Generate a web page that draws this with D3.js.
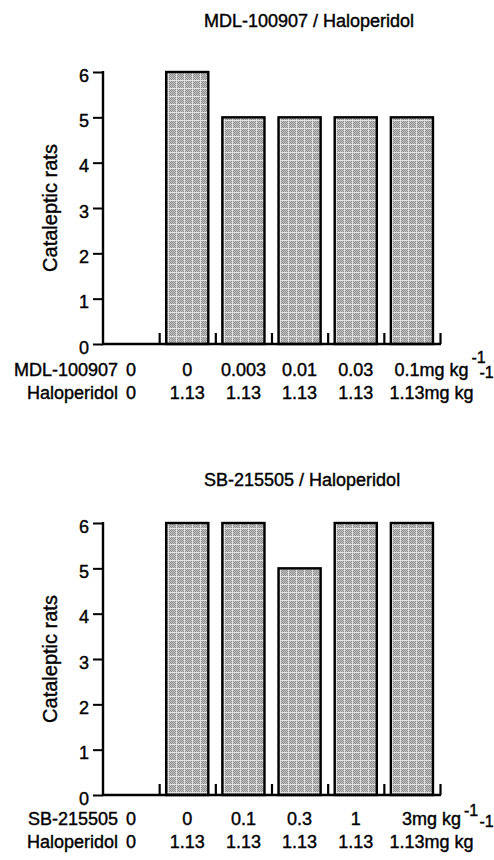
<!DOCTYPE html>
<html>
<head>
<meta charset="utf-8">
<script src="https://cdn.jsdelivr.net/npm/d3@7"></script>
<style>
  html, body { margin: 0; padding: 0; background: #fff; }
  svg { display: block; font-family: "Liberation Sans", Arial, Helvetica, sans-serif; }
  svg text { stroke: #000; stroke-width: 0.4px; fill: #000; }
</style>
</head>
<body>
<svg id="chart" width="494" height="860"></svg>
<script>
// ---- data ----
const yTicks = [0, 1, 2, 3, 4, 5, 6];
const unitText = "mg kg";
const unitSup = "-1";

const titleTop = "MDL-100907 / Haloperidol";
const drugTop = "MDL-100907";
const drugTopDoses = ["0", "0", "0.003", "0.01", "0.03", "0.1"];
const haloTopDoses = ["0", "1.13", "1.13", "1.13", "1.13", "1.13"];
const catalepticTop = [0, 6, 5, 5, 5, 5];

const titleBottom = "SB-215505 / Haloperidol";
const drugBottom = "SB-215505";
const drugBottomDoses = ["0", "0", "0.1", "0.3", "1", "3"];
const haloBottomDoses = ["0", "1.13", "1.13", "1.13", "1.13", "1.13"];
const catalepticBottom = [0, 6, 6, 5, 6, 6];

const yLabel = "Cataleptic rats";
const haloName = "Haloperidol";

// ---- drawing ----
const svg = d3.select("#chart");

// stipple pattern for bars
const defs = svg.append("defs");
const pat = defs.append("pattern")
  .attr("id", "stipple").attr("patternUnits", "userSpaceOnUse")
  .attr("width", 8).attr("height", 8);
pat.append("rect").attr("width", 8).attr("height", 8).attr("fill", "#c0c0c0");
for (let i = 0; i < 8; i++) {
  for (let j = 0; j < 8; j++) {
    if ((i + j) % 2 === 0) {
      pat.append("rect").attr("x", i).attr("y", j).attr("width", 1).attr("height", 1).attr("fill", "#929292");
    }
  }
}
pat.append("rect").attr("x", 0).attr("y", 0).attr("width", 8).attr("height", 1).attr("fill", "#e0e0e0");
pat.append("rect").attr("x", 0).attr("y", 0).attr("width", 1).attr("height", 8).attr("fill", "#e0e0e0");

function panel(opts) {
  const { title, titleX, titleY, drug, drugDoses, haloDoses, values,
          x0, x1, yTop, yBottom, row1, row2, sup1, sup2 } = opts;
  const g = svg.append("g");
  const idx = d3.range(values.length);

  const x = d3.scaleBand().domain(idx).range([x0, x1])
    .paddingInner(0.25).paddingOuter(0.125);
  const y = d3.scaleLinear().domain([0, 6]).range([yBottom, yTop]);

  // title
  g.append("text").attr("x", titleX).attr("y", titleY)
    .attr("font-size", 18).text(title);

  // y label
  g.append("text")
    .attr("transform", `translate(57,${(yTop + yBottom) / 2}) rotate(-90)`)
    .attr("text-anchor", "middle").attr("font-size", 20)
    .text(yLabel);

  // bars
  g.selectAll("rect.bar").data(idx.filter(i => values[i] > 0)).enter()
    .append("rect").attr("class", "bar")
    .attr("x", i => x(i)).attr("width", x.bandwidth())
    .attr("y", i => y(values[i])).attr("height", i => y(0) - y(values[i]))
    .attr("fill", "url(#stipple)").attr("stroke", "#000").attr("stroke-width", 2.4);

  // y axis
  const yAxis = d3.axisLeft(y).tickValues(yTicks).tickFormat(d3.format("d"))
    .tickSize(10).tickPadding(4);
  const ya = g.append("g").attr("transform", `translate(${x0},0)`).call(yAxis);
  ya.select(".domain").remove();
  ya.selectAll(".tick line").attr("stroke", "#000").attr("stroke-width", 2);
  ya.selectAll(".tick text").attr("font-size", 18).attr("font-family", null)
    .attr("fill", "#000").attr("dy", "0.5em");
  g.append("line").attr("x1", x0).attr("x2", x0).attr("y1", y(6) - 1).attr("y2", y(0) + 1)
    .attr("stroke", "#000").attr("stroke-width", 2.4);

  // x axis baseline and upward category ticks
  g.append("line").attr("x1", x0 - 1).attr("x2", x1 + 1).attr("y1", y(0)).attr("y2", y(0))
    .attr("stroke", "#000").attr("stroke-width", 2.4);
  const xAxis = d3.axisTop(d3.scaleLinear().domain([0, values.length]).range([x0, x1]))
    .tickValues(d3.range(1, values.length + 1)).tickSize(11).tickFormat("");
  const xa = g.append("g").attr("transform", `translate(0,${y(0)})`).call(xAxis);
  xa.select(".domain").remove();
  xa.selectAll(".tick line").attr("stroke", "#000").attr("stroke-width", 2.2);

  // dose rows
  const rows = [
    { name: drug, doses: drugDoses, by: y(0) + row1, supDy: sup1, gap: 3 },
    { name: haloName, doses: haloDoses, by: y(0) + row2, supDy: sup2, gap: 6 }
  ];
  rows.forEach(r => {
    g.append("text").attr("x", x0 + 15).attr("y", r.by).attr("text-anchor", "end")
      .attr("font-size", 18).text(r.name);
    r.doses.forEach((d, i) => {
      const cx = x(i) + x.bandwidth() / 2;
      if (i < r.doses.length - 1) {
        g.append("text").attr("x", cx).attr("y", r.by).attr("text-anchor", "middle")
          .attr("font-size", 18).text(d);
      } else {
        const t = g.append("text").attr("y", r.by).attr("font-size", 18);
        const num = t.append("tspan").text(d);
        t.append("tspan").text(unitText);
        const nw = num.node().getComputedTextLength();
        const sx = cx - 5 - nw / 2;
        t.attr("x", sx);
        const tw = t.node().getComputedTextLength();
        g.append("text").attr("x", sx + tw + r.gap).attr("y", r.by + r.supDy)
          .attr("font-size", 16).text(unitSup);
      }
    });
  });
}

panel({
  title: titleTop, titleX: 204, titleY: 27,
  drug: drugTop, drugDoses: drugTopDoses, haloDoses: haloTopDoses, values: catalepticTop,
  x0: 103, x1: 440, yTop: 72, yBottom: 344, row1: 32, row2: 55, sup1: -13, sup2: -21
});
panel({
  title: titleBottom, titleX: 204, titleY: 486,
  drug: drugBottom, drugDoses: drugBottomDoses, haloDoses: haloBottomDoses, values: catalepticBottom,
  x0: 103, x1: 440, yTop: 523, yBottom: 795, row1: 30, row2: 53, sup1: -9, sup2: -21
});
</script>
</body>
</html>
